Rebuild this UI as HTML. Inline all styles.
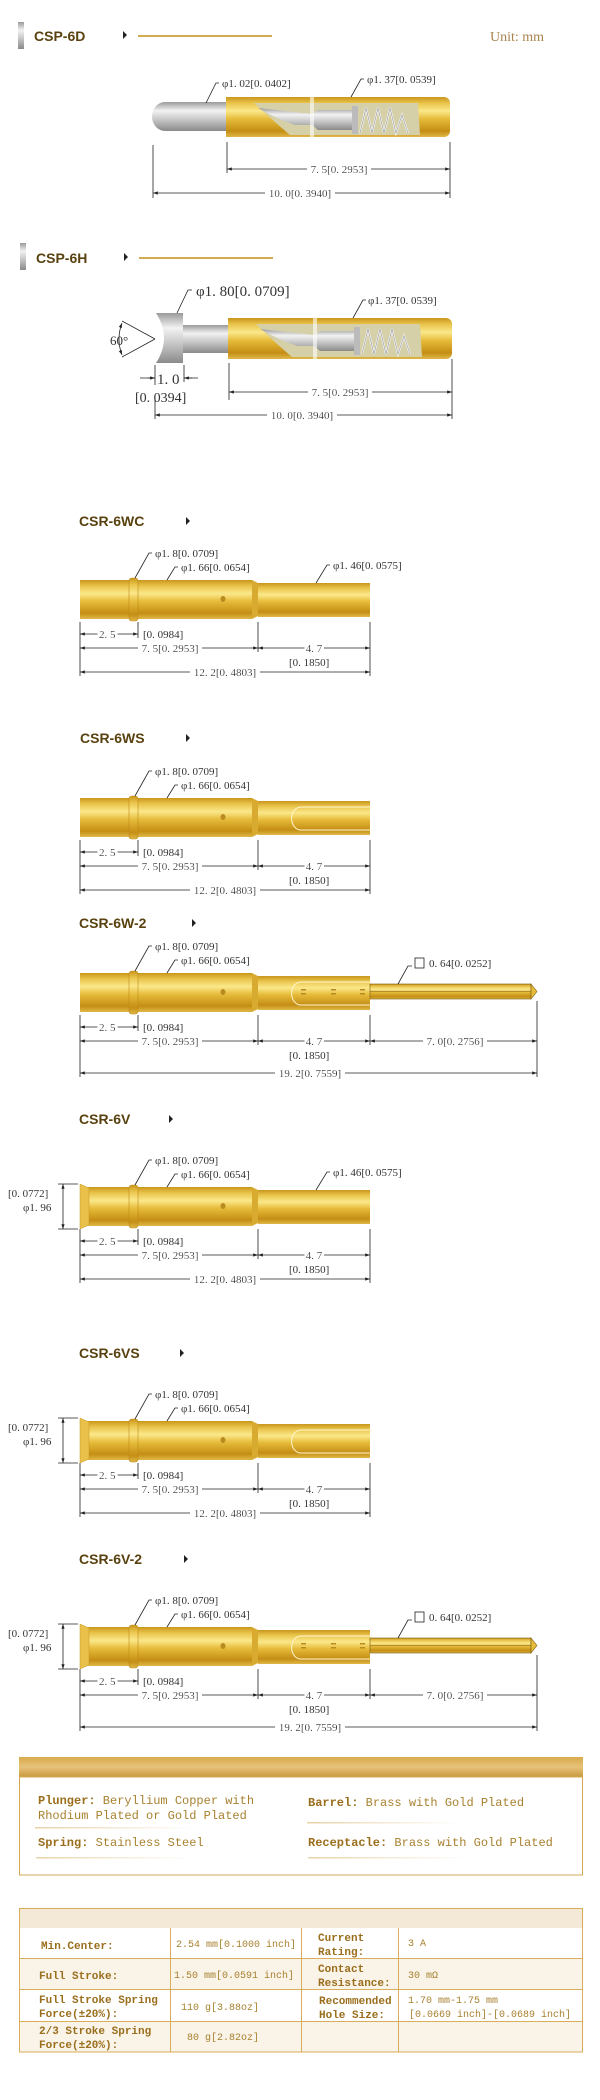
<!DOCTYPE html>
<html><head><meta charset="utf-8"><style>
html,body{margin:0;padding:0;background:#fff;}
svg{display:block;}
.t{font-family:"Liberation Sans",sans-serif;font-weight:bold;font-size:14px;fill:#5a4210;}
.d{font-family:"Liberation Serif",serif;font-size:11px;fill:#333;}
.dw{font-family:"Liberation Serif",serif;font-size:11px;fill:#333;filter:url(#bg);}
.m{font-family:"Liberation Mono",monospace;font-size:12px;fill:#a8812f;}
.mb{font-family:"Liberation Mono",monospace;font-size:12px;fill:#9a6e1c;font-weight:bold;}
.tm{font-family:"Liberation Mono",monospace;font-size:10px;fill:#a8812f;}
.tb{font-family:"Liberation Mono",monospace;font-size:11px;fill:#9a6e1c;font-weight:bold;}
.ln{stroke:#222;stroke-width:0.8;fill:none;}
</style></head><body>
<svg width="600" height="2100" viewBox="0 0 600 2100" xmlns="http://www.w3.org/2000/svg">
<defs>
<filter id="bg" x="-0.06" y="-0.1" width="1.12" height="1.2"><feFlood flood-color="#fff"/><feComposite in="SourceGraphic" operator="over"/></filter>
<linearGradient id="g" x1="0" y1="0" x2="0" y2="1">
<stop offset="0" stop-color="#c9961c"/><stop offset="0.15" stop-color="#e9c34a"/><stop offset="0.35" stop-color="#fbe88a"/><stop offset="0.55" stop-color="#e6bb3a"/><stop offset="0.85" stop-color="#c48e14"/><stop offset="1" stop-color="#e0b848"/>
</linearGradient>
<linearGradient id="s" x1="0" y1="0" x2="0" y2="1">
<stop offset="0" stop-color="#9a9a9a"/><stop offset="0.3" stop-color="#f2f2f2"/><stop offset="0.6" stop-color="#c8c8c8"/><stop offset="1" stop-color="#8a8a8a"/>
</linearGradient>
<linearGradient id="bar" x1="0" y1="0" x2="0" y2="1">
<stop offset="0" stop-color="#d9aa4a"/><stop offset="0.5" stop-color="#e6c27a"/><stop offset="1" stop-color="#c99a3c"/>
</linearGradient>
<linearGradient id="fade" x1="0" y1="0" x2="1" y2="0">
<stop offset="0" stop-color="#e8d2a8"/><stop offset="1" stop-color="#fff"/>
</linearGradient>
<marker id="a" viewBox="0 0 6 6" refX="6" refY="3" markerWidth="6" markerHeight="6" orient="auto-start-reverse"><path d="M0,1 L6,3 L0,5 Z" fill="#222"/></marker>
<g id="csrbase">
<rect x="80" y="0" width="172" height="39" fill="url(#g)"/>
<polygon points="252,0 258,3 258,36 252,39" fill="#d9aa30"/>
<rect x="258" y="3" width="112" height="34" fill="url(#g)"/>
<rect x="129" y="-2" width="9" height="43" rx="3" fill="url(#g)" stroke="#c08a18" stroke-width="0.6"/>
<ellipse cx="223" cy="19" rx="2.5" ry="3" fill="#b88a20"/>
<path class="ln" d="M152,-27 h-3 L135,-2"/><path class="ln" d="M178,-13 h-3 L167,0"/>
<text class="d" x="155" y="-23">φ1. 8[0. 0709]</text>
<text class="d" x="181" y="-9">φ1. 66[0. 0654]</text>
<path class="ln" d="M80,42 V96 M138,42 V58 M258,42 V72"/>
<path class="ln" d="M80,54 H138" marker-start="url(#a)" marker-end="url(#a)"/>
<text class="dw" x="99" y="58">2. 5</text><text class="d" x="143" y="58">[0. 0984]</text>
<path class="ln" d="M80,68 H258" marker-start="url(#a)" marker-end="url(#a)"/>
<text class="dw" x="170" y="72" text-anchor="middle">7. 5[0. 2953]</text>
</g>
<g id="std">
<path class="ln" d="M370,42 V96"/>
<path class="ln" d="M258,68 H370" marker-start="url(#a)" marker-end="url(#a)"/>
<text class="dw" x="314" y="72" text-anchor="middle">4. 7</text>
<text class="d" x="289" y="86">[0. 1850]</text>
<path class="ln" d="M80,92 H370" marker-start="url(#a)" marker-end="url(#a)"/>
<text class="dw" x="225" y="96" text-anchor="middle">12. 2[0. 4803]</text>
</g>
<g id="long">
<rect x="370" y="11" width="161" height="15" fill="url(#g)" stroke="#7a5a10" stroke-width="0.6"/>
<line x1="370" y1="18.5" x2="531" y2="18.5" stroke="#7a5a10" stroke-width="0.6"/>
<polygon points="531,11 537,18.5 531,26" fill="#e6bb3a" stroke="#7a5a10" stroke-width="0.6"/>
<path d="M372,9 H301 A9,11 0 0 0 301,32 H372" fill="none" stroke="#fff6d0" stroke-width="1"/>
<g fill="#b88a20"><rect x="301" y="16" width="5" height="1.5"/><rect x="301" y="20" width="5" height="1.5"/><rect x="331" y="16" width="5" height="1.5"/><rect x="331" y="20" width="5" height="1.5"/><rect x="360" y="16" width="5" height="1.5"/><rect x="360" y="20" width="5" height="1.5"/></g>
<path class="ln" d="M412,-7 h-4 L398,11"/>
<rect x="415" y="-15" width="9" height="10" fill="none" stroke="#222" stroke-width="0.8"/>
<text class="d" x="429" y="-6">0. 64[0. 0252]</text>
<path class="ln" d="M370,42 V72 M537,28 V104 M80,96 V104"/>
<path class="ln" d="M258,68 H370" marker-start="url(#a)" marker-end="url(#a)"/>
<text class="dw" x="314" y="72" text-anchor="middle">4. 7</text>
<text class="d" x="289" y="86">[0. 1850]</text>
<path class="ln" d="M370,68 H537" marker-start="url(#a)" marker-end="url(#a)"/>
<text class="dw" x="455" y="72" text-anchor="middle">7. 0[0. 2756]</text>
<path class="ln" d="M80,100 H537" marker-start="url(#a)" marker-end="url(#a)"/>
<text class="dw" x="310" y="104" text-anchor="middle">19. 2[0. 7559]</text>
</g>
<g id="slot"><path d="M372,9 H301 A9,11 0 0 0 301,32 H372" fill="none" stroke="#fff6d0" stroke-width="1"/></g>
<g id="p146"><path class="ln" d="M330,-15 h-3 L316,3"/><text class="d" x="333" y="-11">φ1. 46[0. 0575]</text></g>
<g id="flare">
<polygon points="80,-3 89,1 89,38 80,42" fill="#e8c04a" stroke="#c89a20" stroke-width="0.5"/>
<text class="d" x="8" y="10">[0. 0772]</text><text class="d" x="23" y="24">φ1. 96</text>
<path class="ln" d="M58,-3 H78 M58,42 H78"/>
<path class="ln" d="M63,-3 V42" marker-start="url(#a)" marker-end="url(#a)"/>
</g>
</defs>

<!-- CSP-6D header -->
<rect x="18" y="22" width="6" height="27" fill="url(#s)"/>
<text class="t" x="34" y="41">CSP-6D</text>
<path d="M123,31 l4,4 l-4,4z" fill="#222"/>
<rect x="138" y="35" width="134" height="2" fill="#d2ac52"/>
<text x="490" y="41" font-family="Liberation Serif,serif" font-size="14" fill="#a88550">Unit: mm</text>

<!-- CSP-6D drawing -->
<path d="M165,102 H226 V131 H165 A13,14.5 0 0 1 165,102 Z" fill="url(#s)"/>
<path d="M226,97 H444 A6,6 0 0 1 450,103 V131 A6,6 0 0 1 444,137 H226 Z" fill="url(#g)"/>
<path d="M254,103 L315,103 L352,103 L418,103 L420,135 L290,135 Q270,118 254,103 Z" fill="#d6d0a8"/>
<path d="M258,108 L312,114 L318,110 L352,110 L352,130 L318,130 L312,125 L295,125 Q275,118 258,108Z" fill="url(#s)"/>
<rect x="352" y="106" width="6" height="28" fill="#bbb"/>
<polyline points="360,133 366,108 372,133 378,108 384,133 390,108 396,133 402,115 408,133" fill="none" stroke="#f4f4f4" stroke-width="2"/>
<polyline points="360,133 366,108 372,133 378,108 384,133 390,108 396,133 402,115 408,133" fill="none" stroke="#999" stroke-width="0.6"/>
<rect x="310" y="97" width="4" height="40" fill="#fff" opacity="0.6"/>
<path class="ln" d="M219,83 h-3 L206,103"/><text class="d" x="222" y="87">φ1. 02[0. 0402]</text>
<path class="ln" d="M364,79 h-3 L351,97"/><text class="d" x="367" y="83">φ1. 37[0. 0539]</text>
<path class="ln" d="M153,145 V198 M227,142 V173 M450,142 V198"/>
<path class="ln" d="M227,169 H450" marker-start="url(#a)" marker-end="url(#a)"/>
<text class="dw" x="339" y="173" text-anchor="middle">7. 5[0. 2953]</text>
<path class="ln" d="M153,193 H450" marker-start="url(#a)" marker-end="url(#a)"/>
<text class="dw" x="300" y="197" text-anchor="middle">10. 0[0. 3940]</text>

<!-- CSP-6H header -->
<rect x="20" y="243" width="6" height="27" fill="url(#s)"/>
<text class="t" x="36" y="263">CSP-6H</text>
<path d="M124,253 l4,4 l-4,4z" fill="#222"/>
<rect x="139" y="257" width="134" height="2" fill="#d2ac52"/>

<!-- CSP-6H drawing -->
<rect x="183" y="325" width="45" height="28" fill="url(#s)"/>
<path d="M156,313 L183,313 L183,363 L156,363 Q172,338 156,313 Z" fill="url(#s)"/>
<path d="M228,318 H446 A6,6 0 0 1 452,324 V353 A6,6 0 0 1 446,359 H228 Z" fill="url(#g)"/>
<path d="M256,324 L420,324 L422,357 L292,357 Q272,340 256,324 Z" fill="#d6d0a8"/>
<path d="M260,329 L314,335 L320,331 L354,331 L354,351 L320,351 L314,346 L297,346 Q277,339 260,329Z" fill="url(#s)"/>
<rect x="354" y="327" width="6" height="28" fill="#bbb"/>
<polyline points="362,354 368,329 374,354 380,329 386,354 392,329 398,354 404,336 410,354" fill="none" stroke="#f4f4f4" stroke-width="2"/>
<polyline points="362,354 368,329 374,354 380,329 386,354 392,329 398,354 404,336 410,354" fill="none" stroke="#999" stroke-width="0.6"/>
<rect x="313" y="318" width="4" height="41" fill="#fff" opacity="0.6"/>
<path class="ln" d="M155,339 L122,321 M155,339 L122,357"/>
<path class="ln" d="M122,323 Q116,339 122,355" marker-start="url(#a)" marker-end="url(#a)"/>
<text x="110" y="345" font-family="Liberation Serif,serif" font-size="13" fill="#333">60°</text>
<path class="ln" d="M192,290 h-4 L177,313"/>
<text x="196" y="296" font-family="Liberation Serif,serif" font-size="15" fill="#333">φ1. 80[0. 0709]</text>
<path class="ln" d="M366,300 h-3 L353,318"/><text class="d" x="368" y="304">φ1. 37[0. 0539]</text>
<path class="ln" d="M155,365 V385 M184,365 V382"/>
<path class="ln" d="M140,378 H155 M184,378 H198" />
<path class="ln" d="M148,378 H155" marker-end="url(#a)"/><path class="ln" d="M192,378 H184" marker-end="url(#a)"/>
<text x="157" y="384" font-family="Liberation Serif,serif" font-size="15" fill="#333">1. 0</text>
<text x="135" y="402" font-family="Liberation Serif,serif" font-size="14" fill="#333">[0. 0394]</text>
<path class="ln" d="M229,363 V400 M452,359 V419 M155,400 V419"/>
<path class="ln" d="M229,392 H452" marker-start="url(#a)" marker-end="url(#a)"/>
<text class="dw" x="340" y="396" text-anchor="middle">7. 5[0. 2953]</text>
<path class="ln" d="M155,415 H452" marker-start="url(#a)" marker-end="url(#a)"/>
<text class="dw" x="302" y="419" text-anchor="middle">10. 0[0. 3940]</text>

<!-- CSR-6WC -->
<text class="t" x="79" y="526">CSR-6WC</text><path d="M186,517 l4,4 l-4,4z" fill="#222"/>
<g transform="translate(0,580)"><use href="#csrbase"/><use href="#p146"/><use href="#std"/></g>

<!-- CSR-6WS -->
<text class="t" x="80" y="743">CSR-6WS</text><path d="M186,734 l4,4 l-4,4z" fill="#222"/>
<g transform="translate(0,798)"><use href="#csrbase"/><use href="#slot"/><use href="#std"/></g>

<!-- CSR-6W-2 -->
<text class="t" x="79" y="928">CSR-6W-2</text><path d="M192,919 l4,4 l-4,4z" fill="#222"/>
<g transform="translate(0,973)"><use href="#csrbase"/><use href="#long"/></g>

<!-- CSR-6V -->
<text class="t" x="79" y="1124">CSR-6V</text><path d="M169,1115 l4,4 l-4,4z" fill="#222"/>
<g transform="translate(0,1187)"><use href="#csrbase"/><use href="#flare"/><use href="#p146"/><use href="#std"/></g>

<!-- CSR-6VS -->
<text class="t" x="79" y="1358">CSR-6VS</text><path d="M180,1349 l4,4 l-4,4z" fill="#222"/>
<g transform="translate(0,1421)"><use href="#csrbase"/><use href="#flare"/><use href="#slot"/><use href="#std"/></g>

<!-- CSR-6V-2 -->
<text class="t" x="79" y="1564">CSR-6V-2</text><path d="M184,1555 l4,4 l-4,4z" fill="#222"/>
<g transform="translate(0,1627)"><use href="#csrbase"/><use href="#flare"/><use href="#long"/></g>

<!-- Materials box -->
<rect x="19" y="1757" width="564" height="20" fill="url(#bar)"/>
<rect x="19.5" y="1777" width="563" height="98" fill="none" stroke="#d4a853" stroke-width="1"/>
<text x="38" y="1804"><tspan class="mb">Plunger:</tspan><tspan class="m"> Beryllium Copper with</tspan></text>
<text class="m" x="38" y="1819">Rhodium Plated or Gold Plated</text>
<rect x="35" y="1827" width="160" height="1.5" fill="url(#fade)"/>
<text x="38" y="1846"><tspan class="mb">Spring:</tspan><tspan class="m"> Stainless Steel</tspan></text>
<rect x="36" y="1857" width="155" height="1.5" fill="url(#fade)"/>
<text x="308" y="1806"><tspan class="mb">Barrel:</tspan><tspan class="m"> Brass with Gold Plated</tspan></text>
<rect x="307" y="1822" width="155" height="1.5" fill="url(#fade)"/>
<text x="308" y="1846"><tspan class="mb">Receptacle:</tspan><tspan class="m"> Brass with Gold Plated</tspan></text>
<rect x="308" y="1857" width="160" height="1.5" fill="url(#fade)"/>

<!-- Spec table -->
<rect x="19" y="1908" width="564" height="20" fill="#f3e9d6"/>
<rect x="19" y="1928" width="564" height="30" fill="#fff"/>
<rect x="19" y="1958" width="564" height="31" fill="#f9f3e8"/>
<rect x="19" y="1989" width="564" height="32" fill="#fff"/>
<rect x="19" y="2021" width="564" height="31" fill="#f9f3e8"/>
<g stroke="#d9ae5a" stroke-width="1" fill="none">
<rect x="19.5" y="1908.5" width="563" height="143.5"/>
<path d="M19,1958.5 H583 M19,1989.5 H583 M19,2021.5 H583 M170.5,1928 V2052 M301.5,1928 V2052 M398.5,1928 V2052"/>
</g>
<text class="tb" x="41" y="1949">Min.Center:</text>
<text class="tm" x="176" y="1947">2.54 mm[0.1000 inch]</text>
<text class="tb" x="318" y="1941">Current</text><text class="tb" x="318" y="1955">Rating:</text>
<text class="tm" x="408" y="1946">3 A</text>
<text class="tb" x="39" y="1979">Full Stroke:</text>
<text class="tm" x="174" y="1978">1.50 mm[0.0591 inch]</text>
<text class="tb" x="318" y="1972">Contact</text><text class="tb" x="318" y="1986">Resistance:</text>
<text class="tm" x="408" y="1978">30 mΩ</text>
<text class="tb" x="39" y="2003">Full Stroke Spring</text><text class="tb" x="39" y="2017">Force(±20%):</text>
<text class="tm" x="181" y="2010">110 g[3.88oz]</text>
<text class="tb" x="319" y="2004">Recommended</text><text class="tb" x="319" y="2018">Hole Size:</text>
<text class="tm" x="408" y="2003">1.70 mm-1.75 mm</text><text class="tm" x="409" y="2017">[0.0669 inch]-[0.0689 inch]</text>
<text class="tb" x="39" y="2034">2/3 Stroke Spring</text><text class="tb" x="39" y="2048">Force(±20%):</text>
<text class="tm" x="187" y="2040">80 g[2.82oz]</text>
</svg>
</body></html>
